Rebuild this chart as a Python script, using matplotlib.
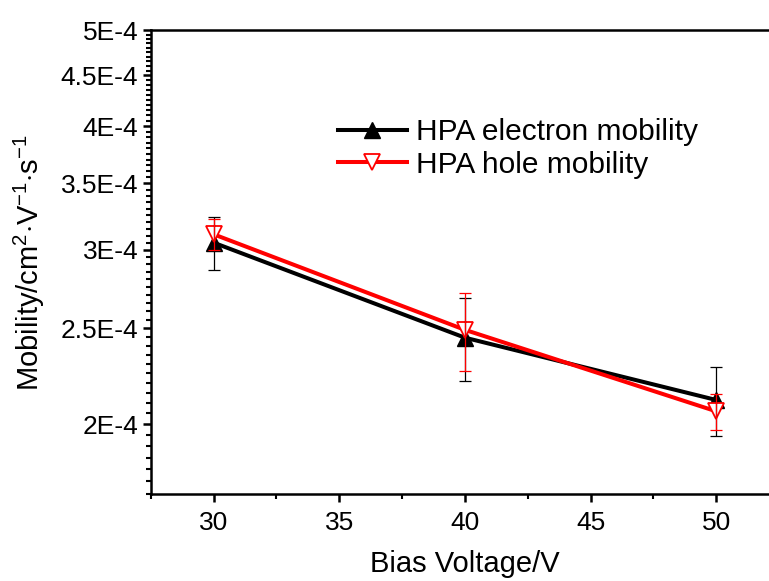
import matplotlib

matplotlib.use('Agg')

import matplotlib.pyplot as plt
import matplotlib.ticker as ticker
import numpy as np

plt.rcParams['font.family'] = ['Liberation Sans', 'DejaVu Sans']
plt.rcParams['mathtext.fontset'] = 'custom'
plt.rcParams['mathtext.rm'] = 'Liberation Sans'
plt.rcParams['mathtext.it'] = 'Liberation Sans'

# data
bias_voltage = [30, 40, 50]
electron_mobility = [3.05e-4, 2.445e-4, 2.115e-4]
electron_err = [0.19e-4, 0.235e-4, 0.168e-4]
hole_mobility = [3.11e-4, 2.49e-4, 2.06e-4]
hole_err = [0.115e-4, 0.225e-4, 0.087e-4]

y_major = [2e-4, 2.5e-4, 3e-4, 3.5e-4, 4e-4, 4.5e-4, 5e-4]
y_major_labels = ['2E-4', '2.5E-4', '3E-4', '3.5E-4', '4E-4', '4.5E-4', '5E-4']
x_major = [30, 35, 40, 45, 50]


fig = plt.figure(figsize=(7.69, 5.81), dpi=100)
# right spine falls just outside the canvas, as in the original export
ax = fig.add_axes([0.196, 0.150, 0.817, 0.798])

ax.plot(bias_voltage, electron_mobility, color='black', lw=2.9, marker='^',
        ms=11, mfc='black', mec='black', label='HPA electron mobility', zorder=3)
ax.plot(bias_voltage, hole_mobility, color='red', lw=2.9, marker='v',
        ms=11, mfc='white', mec='red', mew=1.3, label='HPA hole mobility', zorder=4)
ax.errorbar(bias_voltage, electron_mobility, yerr=electron_err, fmt='none',
            ecolor='black', elinewidth=0.9, capsize=4.5, capthick=0.9, zorder=5)
ax.errorbar(bias_voltage, hole_mobility, yerr=hole_err, fmt='none',
            ecolor='red', elinewidth=0.9, capsize=4.5, capthick=0.9, zorder=6)

ax.set_yscale('log')
ax.set_ylim(1.7e-4, 5e-4)
ax.set_xlim(27.5, 52.5)

ax.yaxis.set_major_locator(ticker.FixedLocator(y_major))
ax.yaxis.set_major_formatter(ticker.FixedFormatter(y_major_labels))
ax.yaxis.set_minor_locator(ticker.FixedLocator(np.arange(170, 501, 5) * 1e-6))
ax.yaxis.set_minor_formatter(ticker.NullFormatter())
ax.xaxis.set_major_locator(ticker.FixedLocator(x_major))
ax.xaxis.set_minor_locator(ticker.FixedLocator([27.5, 32.5, 37.5, 42.5, 47.5, 52.5]))

for side in ['left', 'bottom', 'top', 'right']:
    ax.spines[side].set_linewidth(1.8)

ax.tick_params(axis='both', which='major', direction='out', length=6, width=1.8,
               labelsize=19, pad=3, top=False, right=False)
ax.tick_params(axis='x', which='major', pad=6)
ax.tick_params(axis='both', which='minor', direction='out', length=3.5, width=1.5,
               top=False, right=False)

ax.set_xlabel('Bias Voltage/V', fontsize=21, labelpad=11)
ax.set_ylabel('Mobility/cm$^{2}$$\\cdot$V$^{-1}$$\\cdot$s$^{-1}$', fontsize=21, labelpad=10)

ax.legend(loc='upper left', bbox_to_anchor=(0.265, 0.855), frameon=False,
          fontsize=21.5, handlelength=2.3, handletextpad=0.3, labelspacing=0.15,
          borderpad=0.2)

fig.savefig('out.png', dpi=100)
